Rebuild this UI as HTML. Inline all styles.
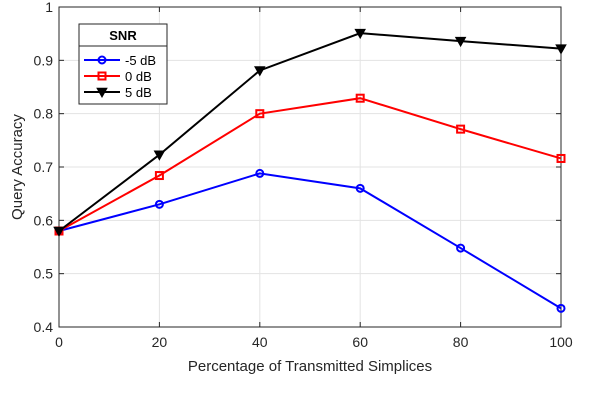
<!DOCTYPE html>
<html><head><meta charset="utf-8"><style>
body{margin:0;background:#fff;}
svg{display:block;font-family:"Liberation Sans",sans-serif;}
</style></head><body>
<svg id="c" width="604" height="408" viewBox="0 0 604 408"></svg>
<script>
const xCats=[0,20,40,60,80,100];
const yTicks=[0.4,0.5,0.6,0.7,0.8,0.9,1];
const yTickLabels=["0.4","0.5","0.6","0.7","0.8","0.9","1"];
const seriesNames=["-5 dB","0 dB","5 dB"];
const sNeg5=[0.58,0.63,0.688,0.66,0.548,0.435];
const s0=[0.58,0.684,0.80,0.829,0.771,0.716];
const s5=[0.58,0.723,0.881,0.951,0.936,0.922];
const NS="http://www.w3.org/2000/svg";
const svg=document.getElementById('c');
const L=59,R=561,T=7,B=327;
const xs=v=>L+(v-0)/100*(R-L);
const ys=v=>B-(v-0.4)/0.6*(B-T);
function mk(t,a,p){const e=document.createElementNS(NS,t);for(const k in a)e.setAttribute(k,a[k]);(p||svg).appendChild(e);return e;}
// grid
xCats.forEach(v=>{const g=mk('line',{x1:xs(v),x2:xs(v),y1:T,y2:B,stroke:'#e3e3e3','stroke-width':1});

});
yTicks.forEach(v=>{const g=mk('line',{x1:L,x2:R,y1:ys(v),y2:ys(v),stroke:'#e3e3e3','stroke-width':1});

});
// box
const bx=mk('rect',{x:L,y:T,width:R-L,height:B-T,fill:'none',stroke:'#262626','stroke-width':1});


xCats.forEach(v=>{mk('line',{x1:xs(v),x2:xs(v),y1:B,y2:B-5,stroke:'#262626'});mk('line',{x1:xs(v),x2:xs(v),y1:T,y2:T+5,stroke:'#262626'});
const t=mk('text',{x:xs(v),y:B+20,'text-anchor':'middle','font-size':14,fill:'#262626'});t.textContent=v;

});
yTicks.forEach((v,i)=>{mk('line',{x1:L,x2:L+5,y1:ys(v),y2:ys(v),stroke:'#262626'});mk('line',{x1:R,x2:R-5,y1:ys(v),y2:ys(v),stroke:'#262626'});
const t=mk('text',{x:L-6,y:ys(v)+5,'text-anchor':'end','font-size':14,fill:'#262626'});t.textContent=yTickLabels[i];

});
const xt=mk('text',{x:(L+R)/2,y:371,'text-anchor':'middle','font-size':15,fill:'#262626'});xt.textContent="Percentage of Transmitted Simplices";


const yt=mk('text',{x:22,y:(T+B)/2,'text-anchor':'middle','font-size':15,fill:'#262626',transform:`rotate(-90 22 ${(T+B)/2})`});yt.textContent="Query Accuracy";


function marker(type,x,y,col,p){
 if(type==='o')return mk('circle',{cx:x,cy:y,r:3.5,fill:'none',stroke:col,'stroke-width':2},p);
 if(type==='s')return mk('rect',{x:x-3.5,y:y-3.5,width:7,height:7,fill:'none',stroke:col,'stroke-width':2},p);
 return mk('path',{d:`M${x-4.5},${y-3.5}L${x+4.5},${y-3.5}L${x},${y+4.5}Z`,fill:col,stroke:col,'stroke-width':1.5},p);
}
const all=[[sNeg5,'#0000ff','o','series-neg5db'],[s0,'#ff0000','s','series-0db'],[s5,'#000000','v','series-5db']];
all.forEach(([d,col,m,nm])=>{
 const g=mk('g',{});
 
 
 mk('polyline',{points:d.map((v,i)=>xs(xCats[i])+','+ys(v)).join(' '),fill:'none',stroke:col,'stroke-width':2},g);
 d.forEach((v,i)=>{const mm=marker(m,xs(xCats[i]),ys(v),col,g);
 
 });
});
// legend
const lg=mk('g',{});


mk('rect',{x:79,y:24,width:88,height:80,fill:'#fff',stroke:'#262626','stroke-width':1},lg);
mk('line',{x1:79,x2:167,y1:46,y2:46,stroke:'#262626'},lg);
const lt=mk('text',{x:123,y:40,'text-anchor':'middle','font-size':13,'font-weight':'bold',fill:'#000'},lg);lt.textContent="SNR";
all.forEach(([d,col,m],i)=>{
 const y=60+i*16;
 const e=mk('g',{},lg);
 
 
 mk('line',{x1:84,x2:120,y1:y,y2:y,stroke:col,'stroke-width':2},e);
 marker(m,102,y,col,e);
 const t=mk('text',{x:125,y:y+5,'font-size':13,fill:'#000'},e);t.textContent=seriesNames[i];
});
</script>
</body></html>
